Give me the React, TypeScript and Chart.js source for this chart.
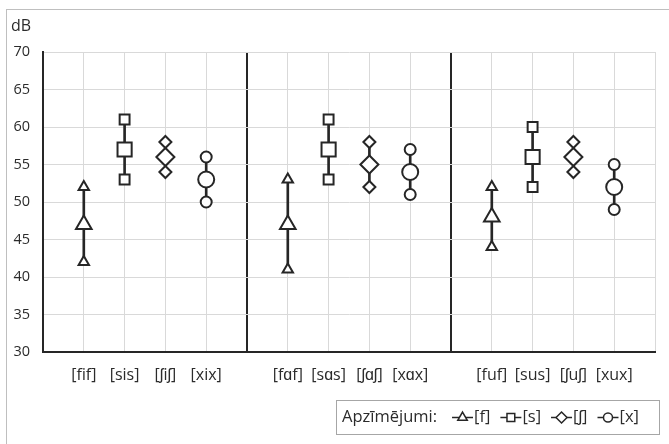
import React, { useEffect, useRef } from 'react';
import { Chart, registerables } from 'chart.js';
import { drawPoint } from 'chart.js/helpers';

Chart.register(...registerables);

// ---- data ----
const categories = ['', '[fif]', '[sis]', '[ʃiʃ]', '[xix]', '', '[fɑf]', '[sɑs]', '[ʃɑʃ]', '[xɑx]', '', '[fuf]', '[sus]', '[ʃuʃ]', '[xux]', ''];
const separatorIndexes = [5, 10];
// values per vowel context: i, ɑ, u
const fMin = [42, 41, 44];
const fMean = [47, 47, 48];
const fMax = [52, 53, 52];
const sMin = [53, 53, 52];
const sMean = [57, 57, 56];
const sMax = [61, 61, 60];
const shMin = [54, 52, 54];
const shMean = [56, 55, 56];
const shMax = [58, 58, 58];
const xMin = [50, 51, 49];
const xMean = [53, 54, 52];
const xMax = [56, 57, 55];
const seriesNames = ['[f]', '[s]', '[ʃ]', '[x]'];
const legendTitle = 'Apzīmējumi:';
const yTitle = 'dB';
const yMin = 30;
const yMax = 70;
const yStep = 5;

// ---- styles ----
const DARK = '#262626';
const TEXT = '#2b2b2b';
const GRID = '#d9d9d9';
const FONT = "'Open Sans', sans-serif";
const pointStyles = ['triangle', 'rect', 'rectRot', 'circle'];
const bigRadius = [9, 10, 9, 8];
const smallRadius = [6, 7, 6, 5.5];
const legendRadius = [5.5, 5.5, 5.5, 4.5];

const mins = [fMin, sMin, shMin, xMin];
const means = [fMean, sMean, shMean, xMean];
const maxs = [fMax, sMax, shMax, xMax];

const idxOf = (series: number, group: number) => 1 + group * 5 + series;

function spread(values: number[], series: number): (number | null)[] {
  const out: (number | null)[] = categories.map(() => null);
  values.forEach((v, g) => {
    out[idxOf(series, g)] = v;
  });
  return out;
}

function whiskers(): ([number, number] | null)[] {
  const out: ([number, number] | null)[] = categories.map(() => null);
  for (let s = 0; s < 4; s++) {
    for (let g = 0; g < 3; g++) {
      out[idxOf(s, g)] = [mins[s][g], maxs[s][g]];
    }
  }
  return out;
}

function markerDataset(label: string, data: (number | null)[], s: number, radius: number) {
  return {
    type: 'line' as const,
    label,
    data,
    showLine: false,
    pointStyle: pointStyles[s],
    pointRadius: radius,
    pointHoverRadius: radius,
    pointBorderWidth: 2,
    pointHoverBorderWidth: 2,
    pointBorderColor: DARK,
    pointBackgroundColor: '#ffffff',
    borderColor: DARK,
    backgroundColor: '#ffffff',
    order: 0,
  };
}

const backgroundPlugin = {
  id: 'bgBorder',
  beforeDraw(chart: any) {
    const ctx = chart.ctx;
    ctx.save();
    ctx.fillStyle = '#ffffff';
    ctx.fillRect(0, 0, chart.width, chart.height);
    ctx.strokeStyle = '#bfbfbf';
    ctx.lineWidth = 1;
    ctx.strokeRect(6.5, 9.5, chart.width + 20, chart.height + 20);
    ctx.restore();
  },
};

const legendPlugin = {
  id: 'boxLegend',
  afterDraw(chart: any) {
    const ctx = chart.ctx;
    ctx.save();
    ctx.strokeStyle = '#a6a6a6';
    ctx.lineWidth = 1;
    ctx.strokeRect(336.5, 400.5, 323, 34);
    ctx.font = `16.5px ${FONT}`;
    ctx.textBaseline = 'middle';
    ctx.textAlign = 'left';
    const y = 417.5;
    let x = 342;
    ctx.fillStyle = TEXT;
    ctx.fillText(legendTitle, x, y);
    x += ctx.measureText(legendTitle).width + 15;
    seriesNames.forEach((name, i) => {
      ctx.strokeStyle = DARK;
      ctx.lineWidth = 1.5;
      ctx.beginPath();
      ctx.moveTo(x, y);
      ctx.lineTo(x + 21, y);
      ctx.stroke();
      ctx.fillStyle = '#ffffff';
      drawPoint(ctx, { pointStyle: pointStyles[i], radius: legendRadius[i], rotation: 0, borderWidth: 1.5 } as any, x + 10.5, y);
      x += 22;
      ctx.fillStyle = TEXT;
      ctx.fillText(name, x, y);
      x += ctx.measureText(name).width + 10;
    });
    ctx.restore();
  },
};

export default function App() {
  const ref = useRef<HTMLCanvasElement>(null);
  useEffect(() => {
    if (!ref.current) return;
    const datasets: any[] = [
      {
        type: 'bar',
        label: 'range',
        data: whiskers(),
        backgroundColor: DARK,
        borderWidth: 0,
        barThickness: 2,
        order: 10,
      },
    ];
    for (let s = 0; s < 4; s++) {
      datasets.push(markerDataset(seriesNames[s] + ' max', spread(maxs[s], s), s, smallRadius[s]));
      datasets.push(markerDataset(seriesNames[s] + ' min', spread(mins[s], s), s, smallRadius[s]));
      datasets.push(markerDataset(seriesNames[s], spread(means[s], s), s, bigRadius[s]));
    }
    const chart = new Chart(ref.current, {
      type: 'line',
      data: { labels: categories, datasets },
      options: {
        responsive: false,
        animation: false,
        layout: { padding: { left: 11, right: 9, top: 0, bottom: 52 } },
        plugins: {
          legend: { display: false },
          tooltip: { enabled: false },
          title: {
            display: true,
            text: yTitle,
            align: 'start',
            color: TEXT,
            font: { family: FONT, size: 16, weight: 'normal', lineHeight: 1.2 },
            padding: { top: 17, bottom: 15.8 },
          },
        },
        scales: {
          x: {
            type: 'category',
            offset: false,
            afterFit: (scale: any) => {
              scale.height = 40;
            },
            grid: {
              offset: false,
              drawTicks: false,
              color: (c: any) => (separatorIndexes.includes(c.index) ? DARK : GRID),
              lineWidth: (c: any) => (separatorIndexes.includes(c.index) ? 2 : 1),
            },
            border: { display: true, color: DARK, width: 2 },
            ticks: {
              autoSkip: false,
              maxRotation: 0,
              minRotation: 0,
              padding: 14,
              color: TEXT,
              font: { family: FONT, size: 16 },
            },
          },
          y: {
            min: yMin,
            max: yMax,
            afterFit: (scale: any) => {
              scale.width = 32;
            },
            grid: { color: GRID, lineWidth: 1, drawTicks: false },
            border: { display: true, color: DARK, width: 2 },
            ticks: {
              stepSize: yStep,
              padding: 13,
              color: TEXT,
              font: { family: FONT, size: 14.5 },
            },
          },
        },
      } as any,
      plugins: [backgroundPlugin, legendPlugin],
    });
    return () => chart.destroy();
  }, []);
  return (
    <div style={{ position: 'fixed', left: 0, top: 0, width: 669, height: 444, background: '#ffffff' }}>
      <canvas ref={ref} width={669} height={444} style={{ display: 'block' }} />
    </div>
  );
}
